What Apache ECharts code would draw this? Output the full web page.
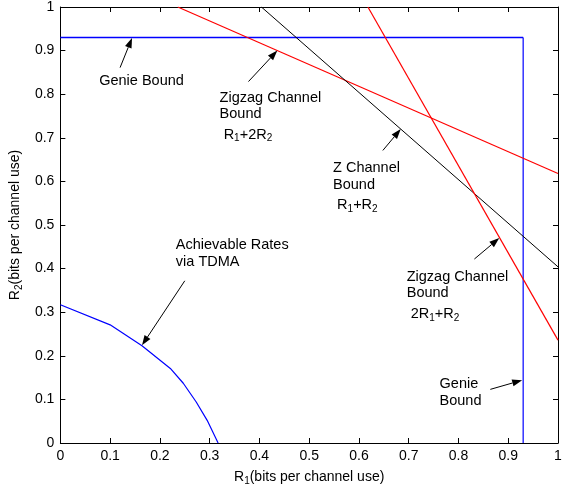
<!DOCTYPE html>
<html>
<head>
<meta charset="utf-8">
<script src="https://cdn.jsdelivr.net/npm/echarts@6/dist/echarts.min.js"></script>
<style>
  html, body { margin: 0; padding: 0; background: #fff; }
  #chart { width: 569px; height: 491px; }
</style>
</head>
<body>
<div id="chart"></div>
<script>
// 数据（从图上读出来的）
var genieBoundTop = [[0, 0.93], [0.93, 0.93]];
var genieBoundRight = [[0.93, 0.93], [0.93, 0]];
var zigzagBound1 = [[0.236, 1], [1, 0.618]];   // R1+2R2
var zChannelBound = [[0.404, 1], [1, 0.404]];  // R1+R2
var zigzagBound2 = [[0.618, 1], [1, 0.236]];   // 2R1+R2
var tdmaRates = [[0, 0.317], [0.1, 0.271], [0.164, 0.223], [0.221, 0.171], [0.247, 0.137],
                 [0.273, 0.094], [0.295, 0.052], [0.317, 0]];

// 注释：文字位置（左边、第一行中线），箭头起点和终点
var notes = [
  { lines: ['Genie Bound'], at: [0.078, 0.831], from: [0.12, 0.861], to: [0.144, 0.929] },
  { lines: ['Zigzag Channel', 'Bound', ' R{sub|1}+2R{sub|2}'], at: [0.32, 0.792], from: [0.378, 0.829], to: [0.436, 0.9] },
  { lines: ['Z Channel', 'Bound', ' R{sub|1}+R{sub|2}'], at: [0.548, 0.630], from: [0.648, 0.671], to: [0.684, 0.72] },
  { lines: ['Zigzag Channel', 'Bound', ' 2R{sub|1}+R{sub|2}'], at: [0.696, 0.381], from: [0.832, 0.422], to: [0.882, 0.47] },
  { lines: ['Genie', 'Bound'], at: [0.762, 0.135], from: [0.864, 0.123], to: [0.928, 0.144] },
  { lines: ['Achievable Rates', 'via TDMA'], at: [0.232, 0.454], from: [0.25, 0.372], to: [0.164, 0.224] }
];
var lineOffsets = [0, 16.5, 37];

var FONT = 'Liberation Sans, Arial, Helvetica, sans-serif';
var subRich = {
  sub: { fontSize: 10, padding: [8, 0, 0, 0], fontFamily: FONT, color: '#000' }
};

var chart = echarts.init(document.getElementById('chart'));

function axisBase(pos, showLabel) {
  return {
    type: 'value',
    position: pos,
    min: 0,
    max: 1,
    interval: 0.1,
    axisLine: { show: true, onZero: false, lineStyle: { color: '#000', width: 1 } },
    axisTick: { show: true, inside: true, length: 5, lineStyle: { color: '#000' } },
    axisLabel: { show: showLabel, color: '#000', fontSize: 14, fontFamily: FONT, margin: 6 },
    splitLine: { show: false }
  };
}

var xMain = axisBase('bottom', true);
xMain.name = 'R{sub|1}(bits per channel use)';
xMain.nameLocation = 'middle';
xMain.nameGap = 25;
xMain.nameTextStyle = { color: '#000', fontSize: 14, fontFamily: FONT, rich: subRich };

var yMain = axisBase('left', true);
yMain.name = 'R{sub|2}(bits per channel use)';
yMain.nameLocation = 'middle';
yMain.nameGap = 30;
yMain.nameTextStyle = { color: '#000', fontSize: 14, fontFamily: FONT, rich: subRich };

function lineSeries(data, color, w, z) {
  return {
    type: 'line',
    data: data,
    showSymbol: false,
    symbol: 'none',
    silent: true,
    animation: false,
    z: z || 2,
    lineStyle: { color: color, width: w || 1.2 }
  };
}

var option = {
  animation: false,
  backgroundColor: '#fff',
  grid: { left: 58, right: 11, top: 7, bottom: 46 },
  xAxis: [xMain, axisBase('top', false)],
  yAxis: [yMain, axisBase('right', false)],
  series: [
    lineSeries(genieBoundTop, '#0000ff', 1.4, 2),
    lineSeries(genieBoundRight, '#0000ff', 1.2, 2),
    lineSeries(zigzagBound1, '#ff0000', 1.2, 3),
    lineSeries(zChannelBound, '#000000', 1, 3),
    lineSeries(zigzagBound2, '#ff0000', 1.2, 3),
    lineSeries(tdmaRates, '#0000ff', 1.2, 3)
  ]
};
chart.setOption(option);

// 注释文字和箭头，用坐标转换放到数据位置
function drawNotes() {
  var els = [];
  notes.forEach(function (n) {
    var p = chart.convertToPixel({ xAxisIndex: 0, yAxisIndex: 0 }, n.at);
    n.lines.forEach(function (t, i) {
      els.push({
        type: 'text',
        silent: true,
        x: p[0],
        y: p[1] + lineOffsets[i],
        style: {
          text: t,
          fill: '#000',
          font: '14.5px ' + FONT,
          textAlign: 'left',
          textVerticalAlign: 'middle',
          rich: subRich
        },
        z: 10
      });
    });
    // 箭头
    var a = chart.convertToPixel({ xAxisIndex: 0, yAxisIndex: 0 }, n.from);
    var b = chart.convertToPixel({ xAxisIndex: 0, yAxisIndex: 0 }, n.to);
    var dx = b[0] - a[0], dy = b[1] - a[1];
    var len = Math.sqrt(dx * dx + dy * dy);
    var ux = dx / len, uy = dy / len;
    var headL = 10, headW = 3.5;
    var bx = b[0] - ux * headL, by = b[1] - uy * headL;
    els.push({
      type: 'line', silent: true, z: 10,
      shape: { x1: a[0], y1: a[1], x2: bx, y2: by },
      style: { stroke: '#000', lineWidth: 1 }
    });
    els.push({
      type: 'polygon', silent: true, z: 10,
      shape: { points: [[b[0], b[1]], [bx - uy * headW, by + ux * headW], [bx + uy * headW, by - ux * headW]] },
      style: { fill: '#000' }
    });
  });
  chart.setOption({ graphic: els });
}
drawNotes();
window.addEventListener('resize', function () {
  chart.resize();
  drawNotes();
});
</script>
</body>
</html>
